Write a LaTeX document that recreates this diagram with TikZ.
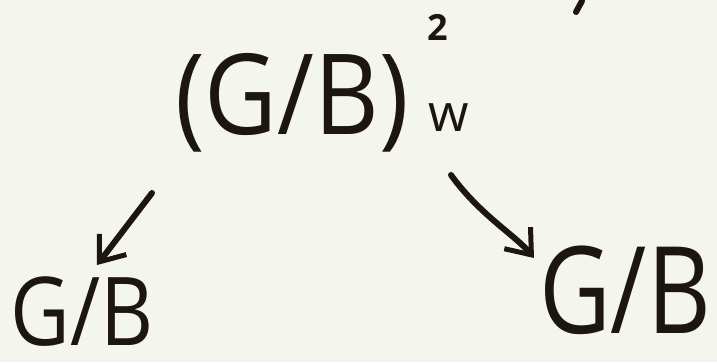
\documentclass[tikz,border=0pt]{standalone}
\usepackage{fontspec}
\setmainfont{Open Sans}
\usetikzlibrary{arrows.meta}
\definecolor{bgc}{HTML}{F5F5F0}
\definecolor{inkc}{HTML}{1C1512}
\begin{document}
\begin{tikzpicture}[x=1pt,y=-1pt,
  pen/.style={draw=inkc, line width=6pt, line cap=round},
  lbl/.style={text=inkc, inner sep=0pt, anchor=base, text depth=0pt},
  tipx/.style={-{Straight Barb[length=22pt,width=34pt,line width=5pt]}}]
\fill[bgc] (0,0) rectangle (717,362);
\useasboundingbox (0,0) rectangle (717,362);
\node[lbl] (top) at (292,134) {\scalebox{1}[1.12]{\fontsize{100}{110}\selectfont (G/B)}};
\node[lbl] (sup) at (438,40) {\fontsize{36}{38}\selectfont\bfseries 2};
\node[lbl] (sub) at (449,131) {\fontsize{52}{54}\selectfont w};
\node[lbl] (bl) at (82,345) {\scalebox{0.82}[0.95]{\fontsize{100}{110}\selectfont G/B}};
\node[lbl] (br) at (625,333) {\scalebox{0.88}[1.08]{\fontsize{112}{120}\selectfont G/B}};
\coordinate (la) at (152,193);
\coordinate (lb) at (97,265);
\coordinate (ra) at (451,175);
\coordinate (rb) at (534,258);
\coordinate (m1) at (582,1);
\coordinate (m2) at (576,12);
\draw[pen,tipx] (la) -- (lb);
\draw[pen,tipx] (ra) .. controls (480,215) and (515,235) .. (rb);
\draw[pen] (m1) -- (m2);
\end{tikzpicture}
\end{document}
